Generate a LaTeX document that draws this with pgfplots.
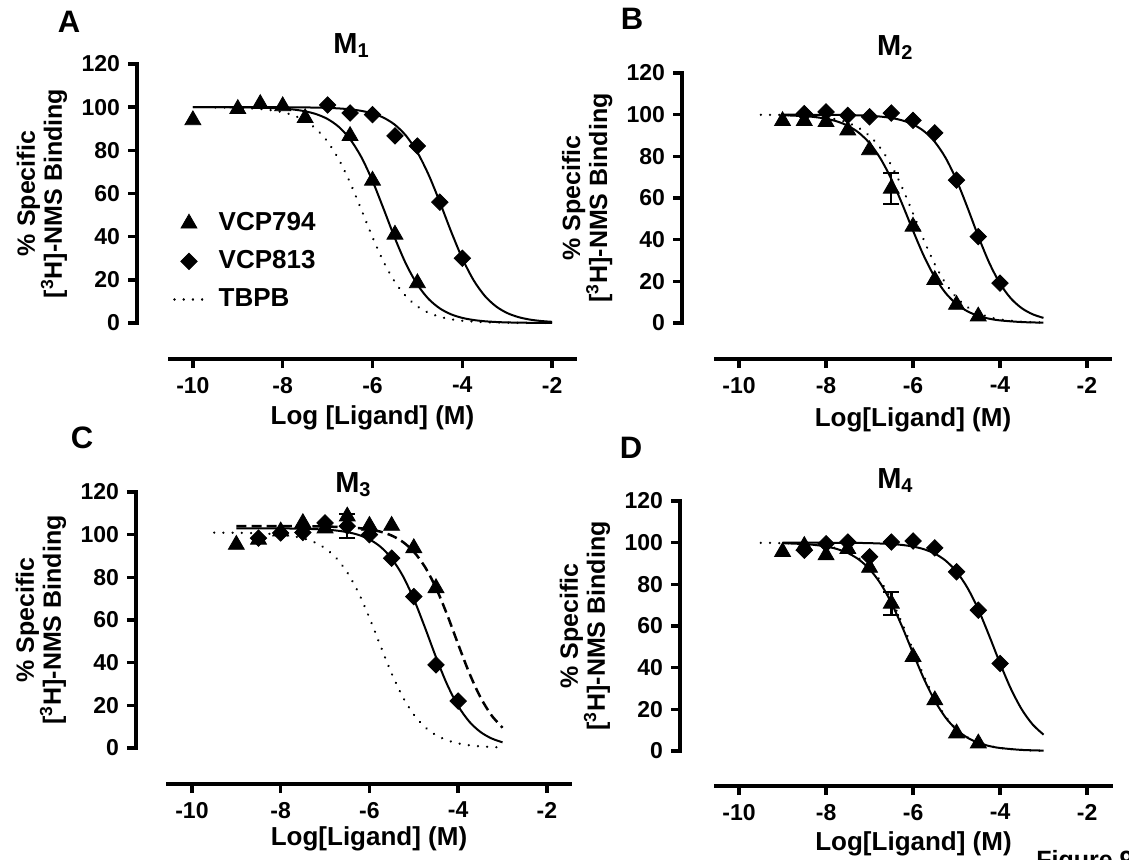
\documentclass[border=0pt]{standalone}
\usepackage{fontspec}
\setmainfont{Liberation Sans}
\usepackage{pgfplots}
\pgfplotsset{compat=1.18}
\newcommand{\bfs}[1]{\fontsize{#1}{#1}\selectfont\bfseries}
\newcommand{\Msub}[1]{M\raisebox{-2pt}{\fontsize{10}{10}\selectfont\bfseries #1}}

\tikzset{ylab/.style={rotate=90, anchor=center, align=center, font=\fontsize{12.5}{13.5}\selectfont\bfseries}}

\pgfplotsset{
  gp/.style={
    scale only axis, clip=false,
    axis x line*=bottom, axis y line*=left,
    ymin=0, ymax=120,
    xtick={-10,-8,-6,-4,-2}, xticklabels={-10,-8,-6,-4,-2},
    ytick={0,20,40,60,80,100,120}, yticklabels={0,20,40,60,80,100,120},
    tick align=outside, major tick length=4.5pt,
    axis line style={line width=1.7pt, line cap=rect},
    tick style={black, line width=1.7pt},
    ticklabel style={font=\bfs{11.5}},
    xticklabel style={yshift=-1pt},
    yticklabel style={xshift=-0.5pt},
  },
  fitline/.style={black, line width=1pt, smooth, mark=none, forget plot},
  dotline/.style={black, line width=1.25pt, smooth, mark=none, line cap=round, dash pattern=on 0.01pt off 4.6pt},
  dashline/.style={black, line width=1.25pt, smooth, mark=none, dash pattern=on 5pt off 2.6pt},
  tri/.style={only marks, mark=triangle*, mark size=4.6pt, black, mark options={fill=black, solid}, forget plot},
  dia/.style={only marks, mark=square*, mark size=2.9pt, black, mark options={fill=black, rotate=45, solid}, forget plot},
  ebar/.style={only marks, mark=none, forget plot, error bars/.cd, y dir=both, y explicit,
    error bar style={draw=black, solid, line width=1.2pt},
    error mark options={draw=black, rotate=90, mark size=4pt, line width=1.2pt}},
}

\begin{document}
\begin{tikzpicture}
\path[use as bounding box] (0,0) rectangle (564.5pt,429.5pt);

% ---------------- Panel A ----------------
\begin{axis}[gp, at={(85pt,268pt)}, anchor=south west,
  width=202.5pt, height=129.5pt, xmin=-10.51, xmax=-1.49,
  axis y line shift=16.5pt, axis x line shift=18pt,
  xlabel={Log [Ligand] (M)},
  every axis x label/.style={at={(axis description cs:0.5,-0.367)}, anchor=center, font=\bfs{13}},
  ylabel={\% Specific\\{}[\textsuperscript{3}H]-NMS Binding},
  every axis y label/.style={at={(axis description cs:-0.316,0.5)}, ylab},
  title={\Msub{1}},
  every axis title/.style={at={(axis description cs:0.447,1.042)}, anchor=base, font=\bfs{14.5}},
  legend style={at={(axis description cs:0.007,0.44)}, anchor=north west, draw=none, fill=none,
    font=\bfs{13}, inner sep=0pt, row sep=5pt, column sep=6pt,
    nodes={inner sep=1pt, text height=9.5pt, text depth=2.5pt}},
  legend cell align=left,
  legend image code/.code={\draw[#1, mark repeat=2, mark phase=2] plot coordinates {(0pt,0pt) (7.25pt,0pt) (14.5pt,0pt)};},
]
\addplot[dotline, forget plot] coordinates {(-9.5,99.89) (-9,99.7) (-8.5,99.16) (-8.25,98.59) (-8,97.66) (-7.75,96.13) (-7.5,93.67) (-7.25,89.81) (-7,84.0) (-6.75,75.76) (-6.5,65.06) (-6.25,52.59) (-6,39.78) (-5.75,28.24) (-5.5,18.99) (-5.25,12.25) (-5,7.68) (-4.75,4.72) (-4.5,2.87) (-4.25,1.73) (-4,1.04) (-3.5,0.37) (-3,0.13) (-2.5,0.05) (-2,0.02)};
\addplot[fitline] coordinates {(-10,100) (-9.5,100) (-9,99.93) (-8.5,99.78) (-8,99.35) (-7.75,98.88) (-7.5,98.09) (-7.25,96.74) (-7,94.5) (-6.75,90.86) (-6.5,85.19) (-6.25,76.91) (-6,65.84) (-5.75,52.73) (-5.5,39.23) (-5.25,27.2) (-5,17.78) (-4.75,11.12) (-4.5,6.76) (-4.25,4.02) (-4,2.37) (-3.75,1.39) (-3.5,0.81) (-3.25,0.47) (-3,0.27) (-2.5,0.1) (-2,0.03)};
\addplot[fitline] coordinates {(-10,100) (-9,99.99) (-8,99.96) (-7.5,99.89) (-7,99.66) (-6.75,99.42) (-6.5,99.0) (-6.25,98.29) (-6,97.09) (-5.75,95.09) (-5.5,91.82) (-5.25,86.69) (-5,79.06) (-4.75,68.66) (-4.5,55.96) (-4.25,42.43) (-4,29.95) (-3.75,19.88) (-3.5,12.58) (-3.25,7.71) (-3,4.62) (-2.75,2.73) (-2.5,1.6) (-2.25,0.94) (-2,0.55)};
\addplot[tri] coordinates {(-10,94) (-9,99.2) (-8.5,101.5) (-8,100.5) (-7.5,95) (-6.5,86.7) (-6,66) (-5.5,41) (-5,18.5)};
\addplot[dia] coordinates {(-7,101) (-6.5,97.3) (-6,96.5) (-5.5,86.7) (-5,82) (-4.5,56) (-4,30)};
\addlegendimage{only marks, mark=triangle*, mark size=4.6pt, black, mark options={fill=black}}
\addlegendentry{VCP794}
\addlegendimage{only marks, mark=square*, mark size=2.9pt, black, mark options={fill=black, rotate=45}}
\addlegendentry{VCP813}
\addlegendimage{dotline, smooth=false}
\addlegendentry{TBPB}
\end{axis}

% ---------------- Panel B ----------------
\begin{axis}[gp, at={(358pt,268pt)}, anchor=south west,
  width=197pt, height=125pt, xmin=-10.53, xmax=-1.47,
  axis y line shift=17pt, axis x line shift=18pt,
  xlabel={Log[Ligand] (M)},
  every axis x label/.style={at={(axis description cs:0.5,-0.388)}, anchor=center, font=\bfs{13}},
  ylabel={\% Specific\\{}[\textsuperscript{3}H]-NMS Binding},
  every axis y label/.style={at={(axis description cs:-0.327,0.5)}, ylab},
  title={\Msub{2}},
  every axis title/.style={at={(axis description cs:0.454,1.072)}, anchor=base, font=\bfs{14.5}},
]
\addplot[dotline, forget plot] coordinates {(-9.5,99.94) (-9,99.82) (-8.5,99.5) (-8,98.59) (-7.75,97.66) (-7.5,96.13) (-7.25,93.67) (-7,89.81) (-6.75,84.0) (-6.5,75.76) (-6.25,65.06) (-6,52.59) (-5.75,39.78) (-5.5,28.24) (-5.25,18.99) (-5,12.25) (-4.75,7.68) (-4.5,4.72) (-4.25,2.87) (-4,1.73) (-3.5,0.62) (-3,0.22)};
\addplot[fitline] coordinates {(-9,99.75) (-8.5,99.3) (-8.25,98.83) (-8,98.05) (-7.75,96.77) (-7.5,94.69) (-7.25,91.39) (-7,86.35) (-6.75,79.02) (-6.5,69.17) (-6.25,57.2) (-6,44.32) (-5.75,32.16) (-5.5,22.03) (-5.25,14.4) (-5,9.11) (-4.75,5.63) (-4.5,3.43) (-4.25,2.07) (-4,1.25) (-3.5,0.45) (-3,0.16)};
\addplot[fitline] coordinates {(-9,99.99) (-8,99.94) (-7.5,99.83) (-7,99.48) (-6.75,99.09) (-6.5,98.42) (-6.25,97.27) (-6,95.33) (-5.75,92.11) (-5.5,86.97) (-5.25,79.25) (-5,68.61) (-4.75,55.56) (-4.5,41.7) (-4.25,29.04) (-4,18.97) (-3.75,11.81) (-3.5,7.12) (-3.25,4.2) (-3,2.45)};
\addplot[ebar] coordinates {(-6.5,64.5) +- (0,7.5)};
\addplot[tri] coordinates {(-9,97) (-8.5,97) (-8,96.5) (-7.5,92.5) (-7,83) (-6.5,64.5) (-6,46.3) (-5.5,20.7) (-5,8.8) (-4.5,3.2)};
\addplot[dia] coordinates {(-8.5,100.5) (-8,101.3) (-7.5,99.7) (-7,99) (-6.5,100.8) (-6,97.3) (-5.5,91.3) (-5,68.6) (-4.5,41.5) (-4,19.1)};
\end{axis}

% ---------------- Panel C ----------------
\begin{axis}[gp, at={(84pt,55.5pt)}, anchor=south west,
  width=201pt, height=128pt, xmin=-10.54, xmax=-1.48,
  axis y line shift=16pt, axis x line shift=18pt,
  xlabel={Log[Ligand] (M)},
  every axis x label/.style={at={(axis description cs:0.5,-0.355)}, anchor=center, font=\bfs{13}},
  ylabel={\% Specific\\{}[\textsuperscript{3}H]-NMS Binding},
  every axis y label/.style={at={(axis description cs:-0.316,0.5)}, ylab},
  title={\Msub{3}},
  every axis title/.style={at={(axis description cs:0.46,1.0)}, anchor=base, font=\bfs{14.5}},
]
\addplot[dotline, forget plot] coordinates {(-9.5,100.96) (-9,100.89) (-8.5,100.67) (-8,100.05) (-7.75,99.4) (-7.5,98.32) (-7.25,96.53) (-7,93.63) (-6.75,89.09) (-6.5,82.31) (-6.25,72.9) (-6,61.04) (-5.75,47.82) (-5.5,34.97) (-5.25,24.01) (-5,15.67) (-4.75,9.86) (-4.5,6.05) (-4.25,3.65) (-4,2.18) (-3.75,1.3) (-3.5,0.77) (-3.25,0.46) (-3,0.27)};
\addplot[fitline] coordinates {(-9,103) (-8,102.93) (-7.5,102.79) (-7,102.39) (-6.75,101.95) (-6.5,101.19) (-6.25,99.92) (-6,97.79) (-5.75,94.31) (-5.5,88.86) (-5.25,80.77) (-5,69.82) (-4.75,56.55) (-4.5,42.58) (-4.25,29.84) (-4,19.67) (-3.75,12.38) (-3.5,7.55) (-3.25,4.51) (-3,2.66)};
\addplot[dashline, forget plot] coordinates {(-9,104) (-8,103.98) (-7.5,103.94) (-7,103.82) (-6.5,103.47) (-6.25,103.1) (-6,102.46) (-5.75,101.39) (-5.5,99.59) (-5.25,96.65) (-5,91.99) (-4.75,84.94) (-4.5,75.06) (-4.25,62.57) (-4,48.62) (-3.75,35.18) (-3.5,23.85) (-3.25,15.36) (-3,9.52)};
\addplot[ebar] coordinates {(-6.5,104) +- (0,5.6)};
\addplot[tri] coordinates {(-9,95.3) (-8.5,97.7) (-8,101.6) (-7.5,105.5) (-7,103) (-6.5,108.6) (-6,104.2) (-5.5,104.2) (-5,93.75) (-4.5,75)};
\addplot[dia] coordinates {(-8.5,98.4) (-8,100.8) (-7.5,101) (-7,105.5) (-6.5,104) (-6,100) (-5.5,89) (-5,71) (-4.5,39) (-4,22)};
\end{axis}

% ---------------- Panel D ----------------
\begin{axis}[gp, at={(358pt,54pt)}, anchor=south west,
  width=197.5pt, height=125pt, xmin=-10.53, xmax=-1.45,
  axis y line shift=18pt, axis x line shift=17.5pt,
  xlabel={Log[Ligand] (M)},
  every axis x label/.style={at={(axis description cs:0.5,-0.372)}, anchor=center, font=\bfs{13}},
  ylabel={\% Specific\\{}[\textsuperscript{3}H]-NMS Binding},
  every axis y label/.style={at={(axis description cs:-0.332,0.5)}, ylab},
  title={\Msub{4}},
  every axis title/.style={at={(axis description cs:0.453,1.052)}, anchor=base, font=\bfs{14.5}},
]
\addplot[dotline, forget plot] coordinates {(-9.5,99.92) (-9,99.79) (-8.5,99.41) (-8,98.34) (-7.75,97.25) (-7.5,95.46) (-7.25,92.61) (-7,88.19) (-6.75,81.64) (-6.5,72.59) (-6.25,61.2) (-6,48.45) (-5.75,35.89) (-5.5,25.0) (-5.25,16.57) (-5,10.58) (-4.75,6.58) (-4.5,4.03) (-4.25,2.44) (-4,1.47) (-3.5,0.52) (-3,0.19)};
\addplot[fitline] coordinates {(-9,99.76) (-8.5,99.33) (-8.25,98.89) (-8,98.16) (-7.75,96.96) (-7.5,95.03) (-7.25,91.97) (-7,87.29) (-6.75,80.44) (-6.5,71.15) (-6.25,59.61) (-6,46.93) (-5.75,34.63) (-5.5,24.11) (-5.25,15.97) (-5,10.23) (-4.75,6.39) (-4.5,3.93) (-4.25,2.39) (-4,1.45) (-3.5,0.52) (-3,0.19)};
\addplot[fitline] coordinates {(-9,100) (-8,99.97) (-7.5,99.92) (-7,99.78) (-6.5,99.35) (-6.25,98.9) (-6,98.13) (-5.75,96.85) (-5.5,94.74) (-5.25,91.34) (-5,86.06) (-4.75,78.33) (-4.5,67.91) (-4.25,55.33) (-4,42.04) (-3.75,29.8) (-3.5,19.91) (-3.25,12.7) (-3,7.85)};
\addplot[ebar] coordinates {(-6.5,70.8) +- (0,5.6)};
\addplot[tri] coordinates {(-9,95.6) (-8.5,98.5) (-8,94) (-7.5,97) (-7,88) (-6.5,70.8) (-6,45.2) (-5.5,24.4) (-5,8.5) (-4.5,3.7)};
\addplot[dia] coordinates {(-8.5,96.4) (-8,99.5) (-7.5,100.3) (-7,93.2) (-6.5,100.3) (-6,100.8) (-5.5,97.5) (-5,86) (-4.5,67.6) (-4,42)};
\end{axis}

% panel letters and figure label
\node[anchor=base, font=\bfs{15.5}] at (34.5pt,413pt) {A};
\node[anchor=base, font=\bfs{15.5}] at (316pt,414.5pt) {B};
\node[anchor=base, font=\bfs{15.5}] at (41pt,205.5pt) {C};
\node[anchor=base, font=\bfs{15.5}] at (315.5pt,200.5pt) {D};
\node[anchor=north west, inner sep=0pt, font=\bfs{12.5}] at (518pt,4.5pt) {Figure 9};
\end{tikzpicture}
\end{document}
